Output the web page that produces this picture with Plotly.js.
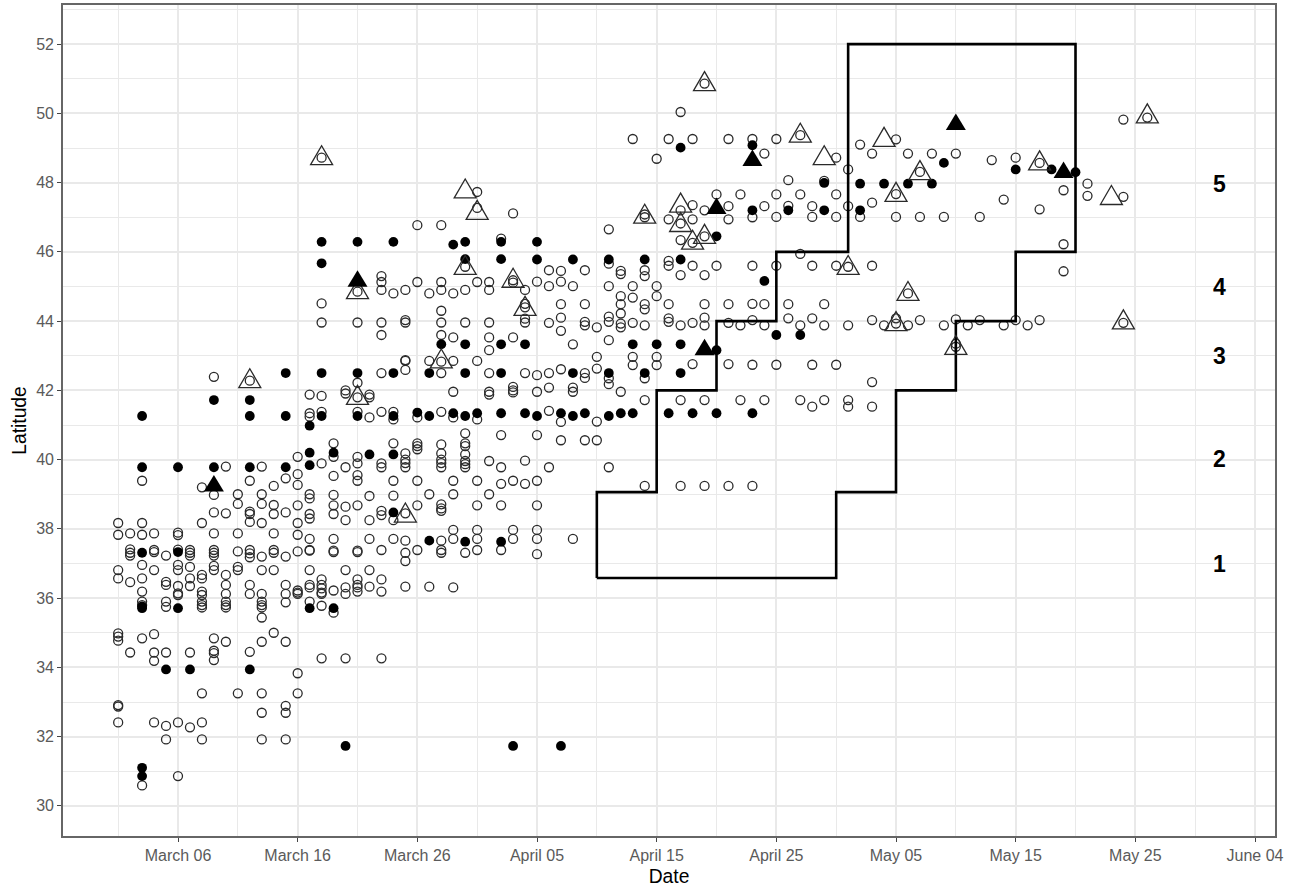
<!DOCTYPE html>
<html>
<head>
<meta charset="utf-8">
<script src="https://cdn.plot.ly/plotly-3.0.1.min.js"></script>
<style>html,body{margin:0;padding:0;background:#fff}#chart{width:1293px;height:888px}</style>
</head>
<body>
<div id="chart"></div>
<script>
// x values: days after March 06. Each row: [day, latitudes]
const openCircles = [
[-5,[38.17,37.83,36.81,36.57,34.98,34.89,34.77,32.91,32.87,32.41]],
[-4,[37.87,37.41,37.31,37.23,36.46,34.43]],
[-3,[39.39,38.17,37.83,36.96,36.57,36.19,35.9,35.8,34.84,30.59]],
[-2,[37.87,37.39,37.33,36.81,34.96,34.43,34.19,32.41]],
[-1,[37.23,36.47,36.38,35.9,35.75,34.43,32.31,31.92]],
[0,[37.89,37.82,37.4,36.96,36.81,36.35,36.14,36.09,32.41,30.86]],
[1,[37.39,37.31,37.23,36.9,36.57,36.35,34.43,32.27]],
[2,[39.2,38.17,36.67,36.57,36.19,36.09,35.9,35.8,35.73,33.25,32.41,31.92]],
[3,[42.39,38.98,38.475,37.87,37.39,37.31,37.23,36.93,36.81,34.84,34.48,34.41,34.21]],
[4,[39.8,38.45,36.67,36.38,36.12,35.9,35.8,35.73,34.74]],
[5,[39.0,38.72,37.87,37.35,36.9,36.81,33.25]],
[6,[42.28,39.39,38.5,38.43,38.2,37.39,37.29,37.18,36.38,36.12,34.45]],
[7,[39.8,39.0,38.72,38.17,37.2,36.81,36.12,35.9,35.8,35.73,35.44,34.74,33.25,32.69,31.92]],
[8,[39.24,38.69,38.43,37.87,37.39,37.31,36.81,35.0]],
[9,[39.46,38.475,37.2,36.38,36.12,35.88,34.74,32.89,32.69,31.92]],
[10,[40.08,39.58,39.27,38.68,38.17,37.83,37.35,36.22,36.16,36.12,33.83,33.25]],
[11,[41.88,41.34,41.24,39.0,38.88,38.43,38.3,37.71,37.39,37.37,36.81,36.38,36.31,35.9]],
[12,[48.72,44.51,43.96,41.84,41.38,39.89,36.54,36.38,36.28,36.16,36.12,35.78,34.26]],
[13,[40.47,40.08,39.53,38.98,38.68,38.43,37.71,37.37,37.33,36.22,35.58]],
[14,[42.0,41.91,39.78,38.64,38.25,36.81,36.31,36.12,34.26]],
[15,[44.85,43.96,42.22,41.8,41.38,40.08,39.89,39.55,39.39,38.68,37.37,37.33,36.54,36.38,36.31,36.19]],
[16,[41.88,41.8,41.22,38.95,38.25,37.71,36.81,36.33]],
[17,[45.3,45.13,44.9,43.96,43.6,42.5,41.38,39.89,39.78,38.52,38.4,37.39,36.54,36.19,34.26]],
[18,[44.8,41.38,41.16,40.47,39.39,38.96,38.25,37.71]],
[19,[44.9,44.03,43.96,42.875,42.85,42.59,40.18,40.0,39.9,39.78,38.45,37.66,37.31,37.07,36.33]],
[20,[46.77,45.13,41.22,40.47,40.39,40.3,39.39,38.68,37.39]],
[21,[44.8,42.85,39.0,36.33]],
[22,[46.77,45.13,44.9,44.3,43.96,43.6,42.83,42.5,41.38,40.44,40.18,40.0,39.9,39.78,38.71,38.59,38.52,37.66,37.39,37.31]],
[23,[44.8,43.53,42.85,41.96,41.22,39.39,39.0,37.97,37.71,36.31]],
[24,[45.57,44.9,43.96,40.76,40.47,40.39,40.15,39.96,39.87,39.78,37.31]],
[25,[47.73,47.27,45.13,42.85,41.16,39.39,38.68,37.97,37.71,37.39]],
[26,[45.13,44.9,43.96,43.53,43.16,42.5,41.96,41.88,39.96,39.0]],
[27,[46.38,40.71,39.78,39.3,38.68,37.39]],
[28,[47.11,45.18,45.11,43.53,42.1,42.0,41.94,39.39,37.97,37.71]],
[29,[44.9,44.5,44.4,44.07,43.96,42.5,39.97,39.3]],
[30,[45.14,42.44,41.96,40.71,39.39,38.68,37.97,37.71,37.27]],
[31,[45.47,45.01,43.95,42.5,42.08,41.41,39.78]],
[32,[45.45,45.14,44.49,44.1,43.72,42.61,41.09,40.56]],
[33,[45.01,43.33,42.08,41.96,37.71]],
[34,[45.47,44.49,43.98,43.88,42.5,42.36,40.56]],
[35,[43.82,42.97,42.63,41.1,40.56]],
[36,[46.65,45.66,45.01,44.13,43.98,43.45,42.35,42.18,39.78]],
[37,[45.45,45.36,44.72,44.49,44.22,43.93,43.82,41.96]],
[38,[49.26,45.01,44.68,43.95,42.97,42.73]],
[39,[47.08,47.0,45.47,45.3,44.49,44.34,43.88,42.35,41.72,39.24]],
[40,[48.69,45.01,44.72,42.97,42.73]],
[41,[49.26,46.94,45.74,45.6,44.49,44.08,43.98]],
[42,[50.04,47.2,46.82,46.34,45.33,43.88,41.72,39.24]],
[43,[49.26,47.35,46.94,46.26,45.6,43.95,42.76]],
[44,[50.86,47.2,46.45,45.33,44.49,44.1,43.88,41.72,39.24]],
[45,[47.66,45.6]],
[46,[49.26,47.32,46.94,44.49,43.95,42.76,39.24]],
[47,[47.66,43.88,41.72]],
[48,[49.26,47.0,45.6,44.5,44.03,42.74,39.24]],
[49,[48.84,47.32,44.49,43.88,41.72]],
[50,[49.26,47.66,47.01,45.6,42.74]],
[51,[48.07,47.33,44.49,44.08]],
[52,[49.37,47.66,45.94,43.88,41.72]],
[53,[47.32,47.01,45.6,44.08,42.74,41.53]],
[54,[48.05,44.49,43.88,41.72]],
[55,[48.72,47.66,47.01,45.6,42.74]],
[56,[48.38,47.32,45.57,43.88,41.72,41.53]],
[57,[49.1,47.01]],
[58,[48.84,47.42,45.6,44.03,42.24,41.53]],
[59,[43.88]],
[60,[49.25,47.67,47.01,44.08,43.93]],
[61,[48.84,44.8,43.88]],
[62,[48.31,47.01,44.03]],
[63,[48.84]],
[64,[47.01,43.88]],
[65,[48.84,44.05,43.35,43.26]],
[66,[43.88]],
[67,[47.01,44.03]],
[68,[48.65]],
[69,[47.51,43.88]],
[70,[48.72,44.03]],
[71,[43.88]],
[72,[48.57,47.23,44.03]],
[74,[47.78,46.22,45.44]],
[76,[47.97,47.62]],
[79,[49.82,47.59,43.95]],
[81,[49.88]]
];
const filledCircles = [
[-3,[41.26,39.78,37.31,35.76,35.71,31.1,30.86]],
[-1,[33.94]],
[0,[39.78,37.33,35.71]],
[1,[33.94]],
[3,[41.72,39.78]],
[6,[41.72,41.26,39.78,33.94]],
[9,[42.5,41.26,39.78]],
[11,[40.98,40.2,39.84,35.71]],
[12,[46.29,45.67,42.5,41.26]],
[13,[40.2,35.71]],
[14,[31.73]],
[15,[46.29,42.5,41.26]],
[16,[40.15]],
[18,[46.29,42.5,41.26,40.15,38.475]],
[20,[41.36]],
[21,[42.5,41.26,37.66]],
[22,[43.33]],
[23,[46.21,41.34]],
[24,[46.29,45.79,43.33,42.5,41.26,37.63]],
[25,[41.34]],
[27,[46.29,45.79,43.33,42.5,41.34,37.63]],
[28,[31.73]],
[29,[43.33,41.34]],
[30,[46.29,45.78,41.26]],
[32,[41.34,31.73]],
[33,[45.78,42.5,41.26]],
[34,[41.34]],
[36,[45.78,42.5,41.26]],
[37,[41.34]],
[38,[43.33,41.34]],
[39,[45.78,42.5]],
[40,[43.33]],
[41,[41.34]],
[42,[49.01,45.78,43.33,42.5]],
[43,[41.34]],
[45,[46.45,43.16,41.34]],
[48,[49.08,47.2,41.34]],
[49,[45.16]],
[50,[43.6]],
[51,[47.2]],
[52,[43.6]],
[54,[47.99,47.2]],
[57,[47.97,47.2]],
[59,[47.97]],
[61,[47.97]],
[63,[47.97]],
[64,[48.57]],
[70,[48.38]],
[73,[48.38]],
[74,[48.3]],
[75,[48.3]]
];
const openTriDays = [6,12,15,15,19,22,24,24,25,28,29,39,42,42,43,44,44,52,54,56,59,60,60,62,61,65,72,78,79,81];
const openTriLats = [42.28,48.72,44.85,41.8,38.4,42.85,47.76,45.55,47.14,45.18,44.37,47.03,47.35,46.79,46.28,46.45,50.86,49.37,48.72,45.55,49.25,47.66,43.93,48.29,44.8,43.24,48.57,47.57,43.98,49.93];
const filledTriDays = [3,15,44,45,48,65,74];
const filledTriLats = [39.27,45.18,43.2,47.28,48.67,49.71,48.32];
const boundaryDays = [35,35,40,40,45,45,50,50,56,56,75,75,70,70,65,65,60,60,55,55,35];
const boundaryLats = [36.58,39.06,39.06,42,42,44,44,46,46,52,52,46,46,44,44,42,42,39.06,39.06,36.58,36.58];
const zoneLabels = ['1','2','3','4','5'];
const zoneLats = [36.98,40.01,42.99,44.98,47.96];
const zoneDay = 87;
const xTickDays = [0,10,20,30,40,50,60,70,80,90];
const xTickLabels = ['March 06','March 16','March 26','April 05','April 15','April 25','May 05','May 15','May 25','June 04'];
const xMinorDays = [-5,5,15,25,35,45,55,65,75,85];
const yTicks = [30,32,34,36,38,40,42,44,46,48,50,52];
const yMinor = [29,31,33,35,37,39,41,43,45,47,49,51,53];

const flatX = rows => rows.flatMap(r => r[1].map(() => r[0]));
const flatY = rows => rows.flatMap(r => r[1]);

const traces = [
  {type:'scatter',mode:'markers',x:flatX(openCircles),y:flatY(openCircles),
   marker:{symbol:'circle-open',size:9,color:'#2a2a2a',line:{width:1.3}},hoverinfo:'skip',showlegend:false},
  {type:'scatter',mode:'markers',x:flatX(filledCircles),y:flatY(filledCircles),
   marker:{symbol:'circle',size:9.8,color:'#000',line:{width:0}},hoverinfo:'skip',showlegend:false},
  {type:'scatter',mode:'lines',x:boundaryDays,y:boundaryLats,
   line:{color:'#000',width:2.6,shape:'linear'},hoverinfo:'skip',showlegend:false}
];

// Upright triangles anchored on the data through the axes.
const triShape = (d,l,path,fill,width) => ({type:'path',layer:'above',xref:'x',yref:'y',
  xsizemode:'pixel',ysizemode:'pixel',xanchor:d,yanchor:l,path:path,
  fillcolor:fill,line:{color:'#2a2a2a',width:width}});
const openPath = 'M-11,-7 L11,-7 L0,12 Z';
const filledPath = 'M-10,-6.5 L10,-6.5 L0,10 Z';
const shapes = openTriDays.map((d,i)=>triShape(d,openTriLats[i],openPath,'rgba(0,0,0,0)',1.3))
  .concat(filledTriDays.map((d,i)=>triShape(d,filledTriLats[i],filledPath,'#000',0)));

const annotations = zoneLabels.map((t,i)=>({x:zoneDay,y:zoneLats[i],xref:'x',yref:'y',text:'<b>'+t+'</b>',
  showarrow:false,font:{family:'Liberation Sans, Arial, sans-serif',size:23,color:'#000'}}));

const grid = '#e9e9e9';
const tickFont = {size:16,color:'#5a5a5a'};
const layout = {
  width:1293,height:888,margin:{l:63,r:18,t:5,b:52,pad:0},
  paper_bgcolor:'#fff',plot_bgcolor:'#fff',showlegend:false,
  font:{family:'Liberation Sans, Arial, sans-serif',color:'#4d4d4d',size:16},
  xaxis:{range:[-9.61,91.67],tickmode:'array',tickvals:xTickDays,ticktext:xTickLabels,
    ticks:'outside',ticklen:4,tickwidth:1.2,tickcolor:'#444',
    showgrid:true,gridcolor:grid,gridwidth:1.6,zeroline:false,
    minor:{tickmode:'array',tickvals:xMinorDays,showgrid:true,gridcolor:grid,gridwidth:1,ticks:''},
    showline:true,mirror:true,linecolor:'#666',linewidth:1.6,
    tickfont:tickFont,automargin:false,
    title:{text:'Date',font:{size:19.3,color:'#000'},standoff:6}},
  yaxis:{range:[29.13,53.13],tickmode:'array',tickvals:yTicks,
    ticks:'outside',ticklen:4,tickwidth:1.2,tickcolor:'#444',
    showgrid:true,gridcolor:grid,gridwidth:1.6,zeroline:false,
    minor:{tickmode:'array',tickvals:yMinor,showgrid:true,gridcolor:grid,gridwidth:1,ticks:''},
    showline:true,mirror:true,linecolor:'#666',linewidth:1.6,
    tickfont:tickFont,automargin:false,
    title:{text:'Latitude',font:{size:19.3,color:'#000'},standoff:4}},
  shapes:shapes,annotations:annotations
};
Plotly.newPlot('chart',traces,layout,{displayModeBar:false,responsive:false});
</script>
</body>
</html>
